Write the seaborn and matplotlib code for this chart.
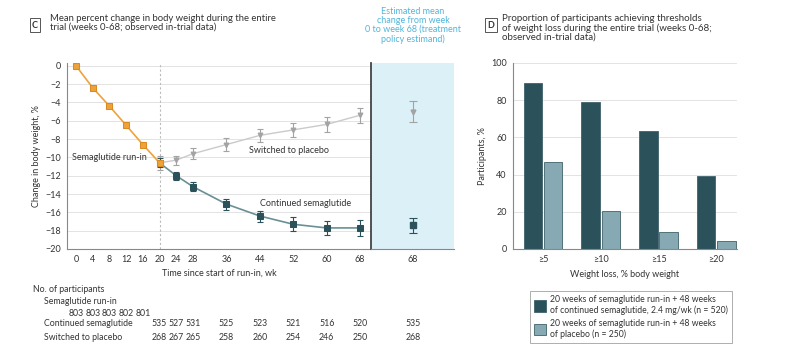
import numpy as np
import pandas as pd
import matplotlib
matplotlib.use("Agg")
import matplotlib.pyplot as plt
import matplotlib.transforms as mtrans
from matplotlib.patches import Patch
import seaborn as sns

# Panel C data
runin_weeks = [0, 4, 8, 12, 16, 20]
runin_change = [0, -2.4, -4.4, -6.5, -8.6, -10.6]
trial_weeks = [20, 24, 28, 36, 44, 52, 60, 68]
sema_change = [-10.6, -12.0, -13.2, -15.1, -16.4, -17.3, -17.7, -17.7]
sema_err = [0.5, 0.45, 0.5, 0.6, 0.6, 0.75, 0.75, 0.85]
placebo_change = [-10.6, -10.3, -9.6, -8.6, -7.6, -7.0, -6.4, -5.4]
placebo_err = [0.8, 0.5, 0.6, 0.7, 0.7, 0.75, 0.8, 0.8]
est_sema, est_sema_err = -17.4, 0.8
est_placebo, est_placebo_err = -5.0, 1.15
week_ticks = [0, 4, 8, 12, 16, 20, 24, 28, 36, 44, 52, 60, 68]

runin_n = [803, 803, 803, 802, 801]
sema_n = [535, 527, 531, 525, 523, 521, 516, 520]
placebo_n = [268, 267, 265, 258, 260, 254, 246, 250]
est_sema_n, est_placebo_n = 535, 268

# Panel D data
thresholds = ["≥5", "≥10", "≥15", "≥20"]
sema_pct = [89, 79, 63.5, 39]
placebo_pct = [47, 20.5, 9, 4.5]
group_labels = ["20 weeks of semaglutide run-in + 48 weeks\nof continued semaglutide, 2.4 mg/wk (n = 520)",
                "20 weeks of semaglutide run-in + 48 weeks\nof placebo (n = 250)"]

ORANGE = "#eea33a"
DARK = "#2b525b"
LIGHT = "#86a9b3"
GRAY = "#a3a3a3"
CYAN = "#52b6dc"
TXT = "#333333"

sns.set_theme(style="white")
plt.rcParams["font.family"] = ["Lato", "DejaVu Sans"]
plt.rcParams["font.size"] = 6.5
plt.rcParams["text.color"] = TXT
plt.rcParams["axes.labelcolor"] = TXT
plt.rcParams["xtick.color"] = TXT
plt.rcParams["ytick.color"] = TXT

W, H = 787, 364
fig = plt.figure(figsize=(W / 100, H / 100), dpi=100)


def px_axes(x0, y0, x1, y1):
    return fig.add_axes([x0 / W, 1 - y1 / H, (x1 - x0) / W, (y1 - y0) / H])


def style_axis(ax):
    for s in ["top", "right"]:
        ax.spines[s].set_visible(False)
    for s in ["left", "bottom"]:
        ax.spines[s].set_color("#888888")
        ax.spines[s].set_linewidth(0.8)
    ax.tick_params(axis="both", length=2.5, width=0.7, color="#888888", pad=2, labelsize=6.5)


# ---------- Panel C ----------
ax = px_axes(67, 63, 371, 249)
style_axis(ax)
ax.set_xlim(-2.15, 70.6)
ax.set_ylim(-20, 0.3)
ax.set_yticks(range(-20, 1, 2))
ax.set_xticks(week_ticks)
ax.yaxis.grid(True, color="#e3e3e3", linewidth=0.7)
ax.set_axisbelow(True)
ax.axvline(20, color="#bbbbbb", linestyle=(0, (2, 2)), linewidth=0.8, zorder=1)

ax.errorbar(trial_weeks, placebo_change, yerr=placebo_err, fmt="none",
            ecolor=GRAY, elinewidth=0.8, capsize=2.5, capthick=0.8, zorder=2)
ax.errorbar(trial_weeks, sema_change, yerr=sema_err, fmt="none",
            ecolor=DARK, elinewidth=0.8, capsize=2.5, capthick=0.8, zorder=2)
sns.lineplot(x=trial_weeks, y=placebo_change, ax=ax, color="#cacaca", linewidth=1.0,
             marker="v", markersize=3.5, markerfacecolor=GRAY, markeredgecolor=GRAY, zorder=3)
sns.lineplot(x=trial_weeks, y=sema_change, ax=ax, color="#6a8f96", linewidth=1.2,
             marker="s", markersize=4.5, markerfacecolor=DARK, markeredgecolor=DARK, zorder=4)
sns.lineplot(x=runin_weeks, y=runin_change, ax=ax, color=ORANGE, linewidth=1.2,
             marker="s", markersize=4.5, markerfacecolor=ORANGE, markeredgecolor="#d98a20", zorder=5)

ax.text(8, -10.0, "Semaglutide run-in", ha="center", va="center", fontsize=6.5)
ax.text(51, -9.25, "Switched to placebo", ha="center", va="center", fontsize=6.5)
ax.text(55, -15.0, "Continued semaglutide", ha="center", va="center", fontsize=6.5)
ax.set_ylabel("Change in body weight, %", fontsize=6.5, labelpad=3)
ax.set_xlabel("Time since start of run-in, wk", fontsize=6.5, labelpad=3)

fig.text(35 / W, 1 - 25 / H, "C", fontsize=6.5, fontweight="bold", ha="center", va="center",
         bbox=dict(boxstyle="square,pad=0.25", fc="white", ec="#555555", lw=0.7))
fig.text(50 / W, 1 - 14 / H, "Mean percent change in body weight during the entire\ntrial (weeks 0-68; observed in-trial data)",
         fontsize=6.8, ha="left", va="top", linespacing=1.0)

# estimand panel
axb = px_axes(371, 63, 454, 249)
axb.set_facecolor("#dcf0f8")
axb.set_xlim(0, 1)
axb.set_ylim(-20, 0.3)
for s in ["top", "right"]:
    axb.spines[s].set_visible(False)
axb.spines["left"].set_color("#444444")
axb.spines["left"].set_linewidth(1.3)
axb.spines["bottom"].set_color("#888888")
axb.spines["bottom"].set_linewidth(0.8)
axb.set_yticks([])
axb.set_xticks([0.506])
axb.set_xticklabels(["68"])
axb.tick_params(axis="x", length=2.5, width=0.7, color="#888888", pad=2, labelsize=6.5)
axb.errorbar([0.506], [est_placebo], yerr=[est_placebo_err], fmt="v", color=GRAY,
             markersize=3.5, elinewidth=0.8, capsize=3, capthick=0.8)
axb.errorbar([0.506], [est_sema], yerr=[est_sema_err], fmt="s", color=DARK,
             markersize=4.5, elinewidth=0.8, capsize=3, capthick=0.8)
fig.text(413 / W, 1 - 7 / H, "Estimated mean\nchange from week\n0 to week 68 (treatment\npolicy estimand)",
         color=CYAN, fontsize=6.5, ha="center", va="top", linespacing=1.0)

# number at risk table
tr = mtrans.blended_transform_factory(ax.transData, fig.transFigure)
trb = mtrans.blended_transform_factory(axb.transData, fig.transFigure)
fig.text(33 / W, 1 - 290 / H, "No. of participants", fontsize=6.3, va="center")
fig.text(44 / W, 1 - 302 / H, "Semaglutide run-in", fontsize=6.3, va="center")
fig.text(44 / W, 1 - 324 / H, "Continued semaglutide", fontsize=6.3, va="center")
fig.text(44 / W, 1 - 338 / H, "Switched to placebo", fontsize=6.3, va="center")
for wk, n in zip(runin_weeks, runin_n):
    ax.text(wk, 1 - 313 / H, str(n), transform=tr, fontsize=6.3, ha="center", va="center")
for wk, n1, n2 in zip(trial_weeks, sema_n, placebo_n):
    ax.text(wk, 1 - 324 / H, str(n1), transform=tr, fontsize=6.3, ha="center", va="center")
    ax.text(wk, 1 - 338 / H, str(n2), transform=tr, fontsize=6.3, ha="center", va="center")
axb.text(0.506, 1 - 324 / H, str(est_sema_n), transform=trb, fontsize=6.3, ha="center", va="center")
axb.text(0.506, 1 - 338 / H, str(est_placebo_n), transform=trb, fontsize=6.3, ha="center", va="center")

# ---------- Panel D ----------
axd = px_axes(513, 63, 737, 249)
style_axis(axd)
bars = pd.DataFrame({
    "threshold": thresholds * 2,
    "pct": sema_pct + placebo_pct,
    "group": [group_labels[0]] * 4 + [group_labels[1]] * 4,
})
sns.barplot(data=bars, x="threshold", y="pct", hue="group", ax=axd,
            palette=[DARK, LIGHT], width=0.7, gap=0.08, edgecolor="#3f626b",
            linewidth=0.6, saturation=1, legend=False, zorder=2)
axd.set_xlim(-0.52, 3.36)
axd.set_ylim(0, 100)
axd.set_yticks(range(0, 101, 20))
axd.yaxis.grid(True, color="#e3e3e3", linewidth=0.7)
axd.set_axisbelow(True)
axd.set_xlabel("Weight loss, % body weight", fontsize=6.5, labelpad=4)
axd.set_ylabel("Participants, %", fontsize=6.5, labelpad=3)

handles = [Patch(facecolor=DARK, edgecolor="#3f626b", lw=0.6),
           Patch(facecolor=LIGHT, edgecolor="#3f626b", lw=0.6)]
leg = fig.legend(handles, group_labels, loc="upper left", bbox_to_anchor=(530 / W, 1 - 291 / H),
                 fontsize=6.2, frameon=True, fancybox=False, edgecolor="#999999",
                 handlelength=1.3, handleheight=1.6, handletextpad=0.5, borderpad=0.5,
                 labelspacing=0.4, borderaxespad=0)
leg.get_frame().set_linewidth(0.7)

fig.text(491 / W, 1 - 25 / H, "D", fontsize=6.5, fontweight="bold", ha="center", va="center",
         bbox=dict(boxstyle="square,pad=0.25", fc="white", ec="#555555", lw=0.7))
fig.text(502 / W, 1 - 14 / H, "Proportion of participants achieving thresholds\nof weight loss during the entire trial (weeks 0-68;\nobserved in-trial data)",
         fontsize=7, ha="left", va="top", linespacing=1.0)

fig.savefig("out.png", dpi=100)
